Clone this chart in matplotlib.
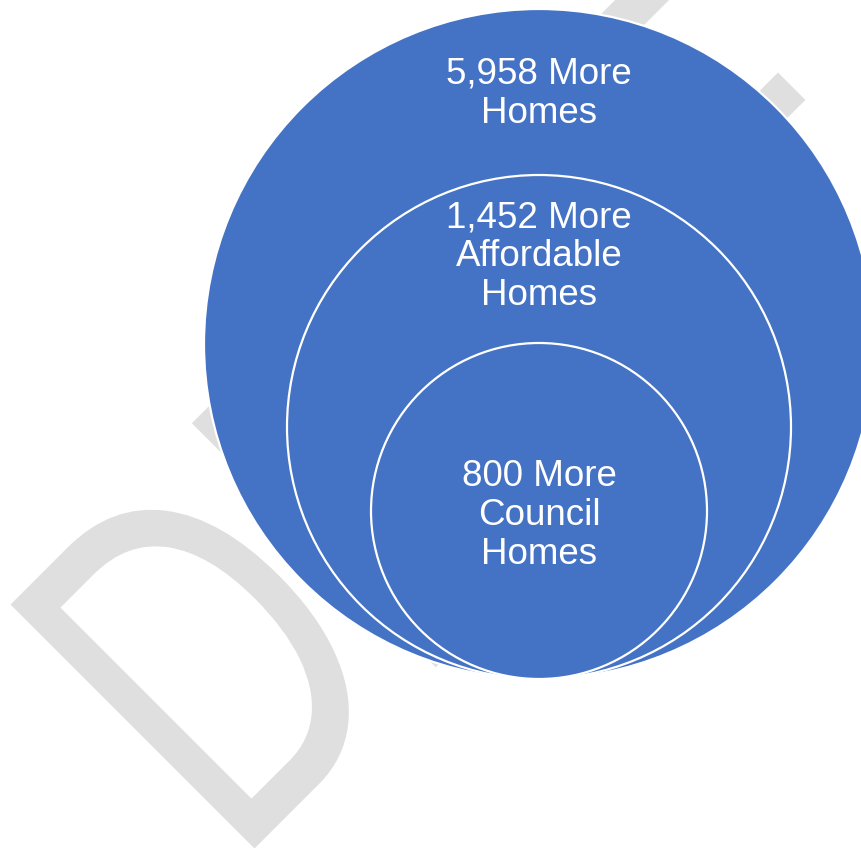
import numpy as np
import matplotlib
matplotlib.use("Agg")
import matplotlib.pyplot as plt
from matplotlib.patches import Circle, PathPatch
from matplotlib.textpath import TextPath
from matplotlib.font_manager import FontProperties
from matplotlib.transforms import Affine2D

# Nested circle labels, outermost first
labels = [
    ["5,958 More", "Homes"],
    ["1,452 More", "Affordable", "Homes"],
    ["800 More", "Council", "Homes"],
]
watermark = "DRAFT"

W, H = 862, 848
BLUE = "#4472C4"
GREY = "#dfdfdf"

fig = plt.figure(figsize=(W / 100, H / 100), dpi=100)
ax = fig.add_axes([0, 0, 1, 1])
ax.set_xlim(0, W)
ax.set_ylim(H, 0)
ax.axis("off")

# Diagonal watermark built from a glyph outline so it can be stretched
fp = FontProperties(family="Liberation Sans")
tp = TextPath((0, 0), watermark, size=1, prop=fp)
dbox = TextPath((0, 0), watermark[0], size=1, prop=fp).get_extents()
cap_px = 345.0
kv = cap_px / dbox.y1      # vertical scale (pixels per em)
ku = 355.0                 # horizontal scale (pixels per em), condensed
x_left = dbox.x0
p0x, p0y = 254.5, 848.5
r2 = np.sqrt(2.0)
m = np.array([
    [ku / r2, -kv / r2, p0x - ku * x_left / r2],
    [-ku / r2, -kv / r2, p0y + ku * x_left / r2],
    [0, 0, 1],
])
wm_path = Affine2D(m).transform_path(tp)
ax.add_patch(PathPatch(wm_path, facecolor=GREY, edgecolor="none", zorder=0))

# Circles share a common bottom tangent point
cx, bottom = 539.0, 679.0
radii = [335.0, 252.0, 168.0]
for i, r in enumerate(radii):
    ax.add_patch(Circle((cx, bottom - r), r, facecolor=BLUE, edgecolor="white",
                        linewidth=1.6, zorder=1 + i))

# Label baselines (first line) and line step
first_baselines = [84, 227, 486]
step = 39
for lines, y0 in zip(labels, first_baselines):
    for j, line in enumerate(lines):
        ax.text(cx, y0 + j * step, line, ha="center", va="baseline",
                color="white", fontsize=26.5, family="Liberation Sans", zorder=10)

fig.savefig("out.png", dpi=100, facecolor="white")
